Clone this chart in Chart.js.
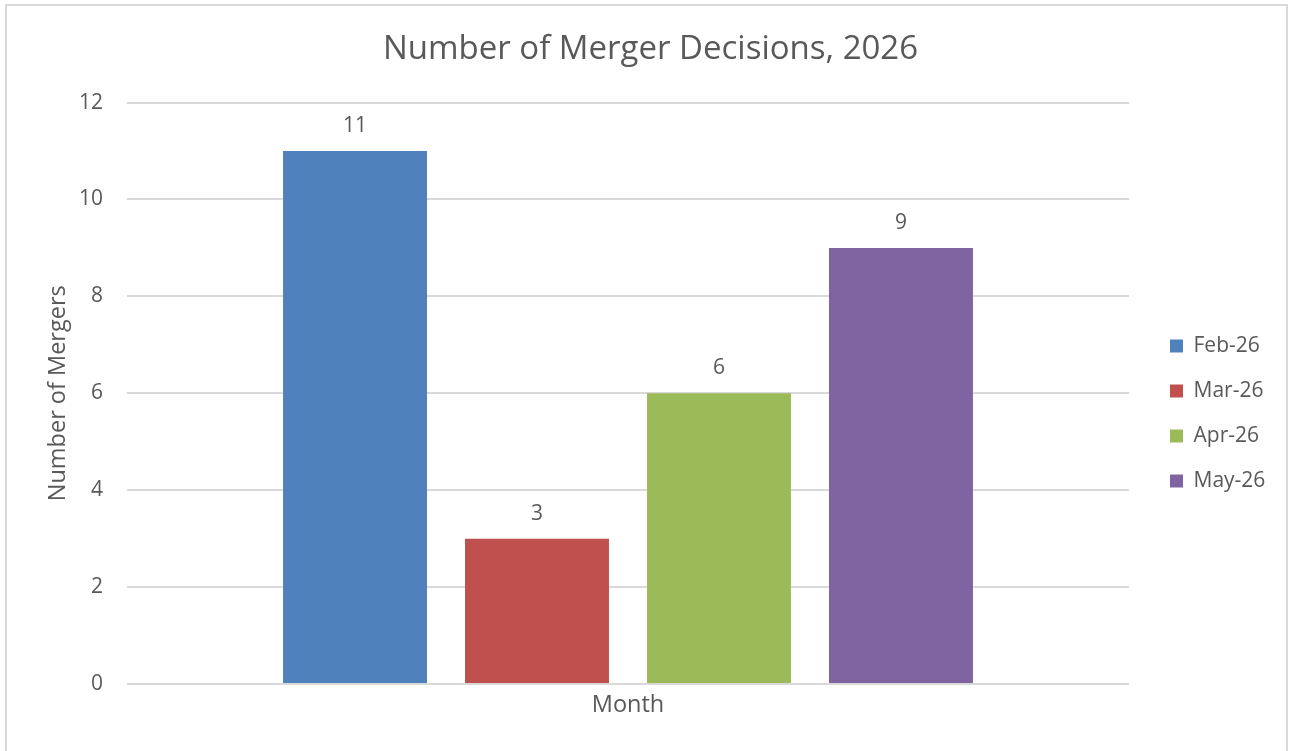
<!DOCTYPE html>
<html>
<head>
<meta charset="utf-8">
<script src="https://cdn.jsdelivr.net/npm/chart.js@4.4.0/dist/chart.umd.min.js"></script>
<style>
  html, body { margin: 0; padding: 0; background: #fff; }
  #wrap { position: relative; width: 1291px; height: 751px; overflow: hidden; }
  #frame { position: absolute; left: 5px; top: 4px; width: 1283px; height: 760px; border: 2px solid #d9d9d9; box-sizing: border-box; pointer-events: none; }
  canvas { position: absolute; left: 0; top: 0; }
</style>
</head>
<body>
<div id="wrap">
  <canvas id="c" width="1291" height="751"></canvas>
  <div id="frame"></div>
</div>
<script>
const categories = ["Month"];
const seriesNames = ["Feb-26", "Mar-26", "Apr-26", "May-26"];
const feb26 = [11];
const mar26 = [3];
const apr26 = [6];
const may26 = [9];
const seriesColors = ["#4F81BD", "#C0504D", "#9BBB59", "#8064A2"];
const yTicks = [0, 2, 4, 6, 8, 10, 12];

const FONT = "'Open Sans', 'Liberation Sans', sans-serif";
const TEXT = "#595959";

const seriesValues = [feb26, mar26, apr26, may26];

const valueLabels = {
  id: 'valueLabels',
  afterDatasetsDraw(chart) {
    const ctx = chart.ctx;
    ctx.save();
    ctx.font = "21px " + FONT;
    ctx.fillStyle = TEXT;
    ctx.textAlign = 'center';
    ctx.textBaseline = 'middle';
    chart.data.datasets.forEach((ds, i) => {
      const meta = chart.getDatasetMeta(i);
      meta.data.forEach((bar, j) => {
        ctx.fillText(String(ds.data[j]), bar.x, bar.y - 25);
      });
    });
    ctx.restore();
  }
};

const legendPlace = {
  id: 'legendPlace',
  beforeLayout(chart) {
    const lg = chart.legend;
    if (lg && !lg._wrapped) {
      const orig = lg.fit.bind(lg);
      lg.fit = function () { orig(); this.width = 162; };
      lg._wrapped = true;
    }
  },
  afterLayout(chart) {
    const lg = chart.legend;
    if (!lg) return;
    const pad = 24, fs = 21, n = chart.data.datasets.length;
    const dx = (1170 - pad) - lg.left;
    lg.left += dx; lg.right += dx;
    const cur = (lg.top + pad + lg.bottom - n * (fs + pad)) / 2 + fs / 2;
    const dy = 346 - cur;
    lg.top += dy; lg.bottom += dy;
  }
};

new Chart(document.getElementById('c'), {
  type: 'bar',
  data: {
    labels: categories,
    datasets: seriesNames.map((name, i) => ({
      label: name,
      data: seriesValues[i],
      backgroundColor: seriesColors[i],
      borderWidth: 0,
      categoryPercentage: 0.7265,
      barPercentage: 0.791
    }))
  },
  options: {
    responsive: false,
    animation: false,
    layout: { padding: { top: 0, left: 10, right: 0, bottom: 0 } },
    plugins: {
      title: {
        display: true,
        text: 'Number of Merger Decisions, 2026',
        color: TEXT,
        font: { family: FONT, size: 33, weight: 'normal' },
        padding: { top: 30, bottom: 33 }
      },
      legend: {
        position: 'right',
        labels: {
          color: TEXT,
          font: { family: FONT, size: 21 },
          boxWidth: 13,
          boxHeight: 13,
          padding: 24
        }
      },
      tooltip: { enabled: false }
    },
    scales: {
      x: {
        grid: { display: false, drawTicks: false },
        border: { display: false },
        ticks: { color: TEXT, font: { family: FONT, size: 23.5 }, padding: 7 },
        afterFit(s) { s.height = 67; }
      },
      y: {
        min: yTicks[0],
        max: yTicks[yTicks.length - 1],
        afterBuildTicks(s) { s.ticks = yTicks.map(v => ({ value: v })); },
        grid: { color: '#d9d9d9', lineWidth: 2, drawTicks: false },
        border: { display: false },
        ticks: { color: TEXT, font: { family: FONT, size: 21 }, padding: 24 },
        title: {
          display: true,
          text: 'Number of Mergers',
          color: TEXT,
          font: { family: FONT, size: 23.5 },
          padding: { top: 34, bottom: 0 }
        },
        afterFit(s) { s.width = 117; }
      }
    }
  },
  plugins: [valueLabels, legendPlace]
});
</script>
</body>
</html>
